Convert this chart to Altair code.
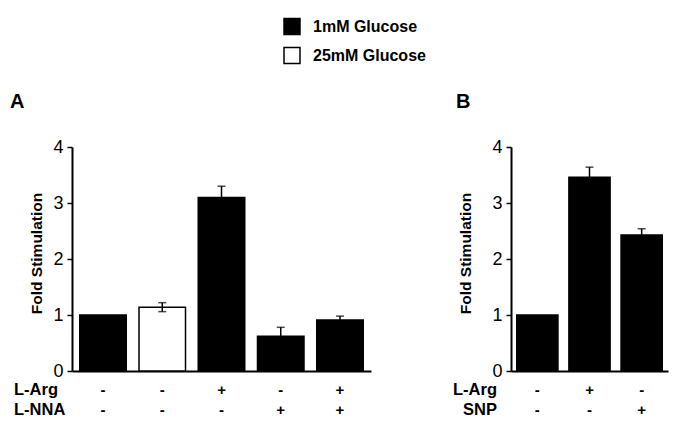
import altair as alt
import pandas as pd

FONT = "Liberation Sans"

# Panel A data
cats_a = ["a1", "a2", "a3", "a4", "a5"]
glucose_a = ["1mM Glucose", "25mM Glucose", "1mM Glucose", "1mM Glucose", "1mM Glucose"]
values_a = [1.00, 1.14, 3.10, 0.62, 0.91]
err_a = [0.0, 0.08, 0.20, 0.16, 0.07]
larg_a = ["-", "-", "+", "-", "+"]
lnna_a = ["-", "-", "-", "+", "+"]

# Panel B data
cats_b = ["b1", "b2", "b3"]
glucose_b = ["1mM Glucose", "1mM Glucose", "1mM Glucose"]
values_b = [1.00, 3.46, 2.43]
err_b = [0.0, 0.18, 0.11]
larg_b = ["-", "+", "-"]
snp_b = ["-", "-", "+"]

legend_domain = ["1mM Glucose", "25mM Glucose"]
legend_range = ["black", "white"]

H = 224


def panel(cats, glucose, values, errs, row1, row2, name1, name2, width,
          pin, pout, title_x, letter, letter_x, names_align, names_x, legend):
    df = pd.DataFrame({
        "cat": cats, "glucose": glucose, "value": values, "err": errs,
        "lo": [v - e for v, e in zip(values, errs)],
        "hi": [v + e for v, e in zip(values, errs)],
        "r1": row1, "r2": row2,
    })
    xenc = alt.X("cat:N", sort=cats,
                 scale=alt.Scale(paddingInner=pin, paddingOuter=pout),
                 axis=alt.Axis(labels=False, ticks=False, title=None,
                               domainColor="black", domainWidth=2))
    yenc = alt.Y("value:Q", scale=alt.Scale(domain=[0, 4], nice=False),
                 axis=alt.Axis(values=[0, 1, 2, 3, 4], format="d", grid=False,
                               tickSize=5, tickWidth=1.5, tickColor="black",
                               domainColor="black", domainWidth=2,
                               labelFont=FONT, labelFontSize=18, labelColor="black",
                               labelPadding=4,
                               title="Fold Stimulation", titleFont=FONT,
                               titleFontSize=15.5, titleFontWeight="bold",
                               titleColor="black", titleX=title_x, titleY=106,
                               titleBaseline="middle", titleAngle=-90))
    if legend:
        color = alt.Color("glucose:N",
                          scale=alt.Scale(domain=legend_domain, range=legend_range),
                          legend=alt.Legend(title=None, orient="none",
                                            legendX=211, legendY=-129.5,
                                            symbolType="square", symbolSize=256,
                                            symbolStrokeColor="black",
                                            symbolStrokeWidth=1.5,
                                            symbolFillColor="black",
                                            labelFont=FONT, labelFontSize=16,
                                            labelFontWeight="bold",
                                            labelColor="black", labelOffset=12,
                                            rowPadding=7, padding=0))
    else:
        color = alt.Color("glucose:N",
                          scale=alt.Scale(domain=legend_domain, range=legend_range),
                          legend=None)
    base = alt.Chart(df)
    bars = base.mark_bar(stroke="black", strokeWidth=1.5).encode(
        x=xenc, y=yenc, color=color)
    errdf = base.transform_filter("datum.err > 0")
    rules = errdf.mark_rule(color="black", strokeWidth=1.5).encode(
        x=alt.X("cat:N", sort=cats), y="lo:Q", y2="hi:Q")
    cap_hi = errdf.mark_tick(color="black", thickness=1.5, size=8).encode(
        x=alt.X("cat:N", sort=cats), y="hi:Q")
    cap_lo = errdf.mark_tick(color="black", thickness=1.5, size=8).encode(
        x=alt.X("cat:N", sort=cats), y="lo:Q")
    sign_style = dict(font=FONT, fontSize=15, fontWeight="bold", color="black",
                      align="center", baseline="middle")
    s1 = base.mark_text(**sign_style).encode(
        x=alt.X("cat:N", sort=cats), y=alt.value(H + 19), text="r1:N")
    s2 = base.mark_text(**sign_style).encode(
        x=alt.X("cat:N", sort=cats), y=alt.value(H + 39), text="r2:N")
    names_df = pd.DataFrame({"name": [name1, name2], "row": [0, 1]})
    nstyle = dict(font=FONT, fontSize=16.5, fontWeight="bold", color="black",
                  align=names_align, baseline="middle")
    n1 = alt.Chart(names_df).transform_filter("datum.row == 0").mark_text(**nstyle).encode(
        x=alt.value(names_x), y=alt.value(H + 19), text="name:N")
    n2 = alt.Chart(names_df).transform_filter("datum.row == 1").mark_text(**nstyle).encode(
        x=alt.value(names_x), y=alt.value(H + 39), text="name:N")
    letter_df = pd.DataFrame({"t": [letter]})
    lt = alt.Chart(letter_df).mark_text(font=FONT, fontSize=20, fontWeight="bold",
                                        color="black", align="left",
                                        baseline="middle").encode(
        x=alt.value(letter_x), y=alt.value(-45), text="t:N")
    return alt.layer(bars, rules, cap_hi, cap_lo, s1, s2, n1, n2, lt).properties(
        width=width, height=H)


pa = panel(cats_a, glucose_a, values_a, err_a, larg_a, lnna_a, "L-Arg", "L-NNA",
           299, 0.215, 0.131, -36, "A", -62, "left", -58, True)
pb = panel(cats_b, glucose_b, values_b, err_b, larg_b, snp_b, "L-Arg", "SNP",
           157, 0.21, 0.11, -46, "B", -55, "right", -14, False)

chart = alt.hconcat(pa, pb, spacing=140, bounds="flush").properties(
    padding={"left": 2, "top": 9, "right": 5, "bottom": 5}
).configure_view(stroke=None)

chart.save("out.html", embed_options={"renderer": "svg", "actions": False})
